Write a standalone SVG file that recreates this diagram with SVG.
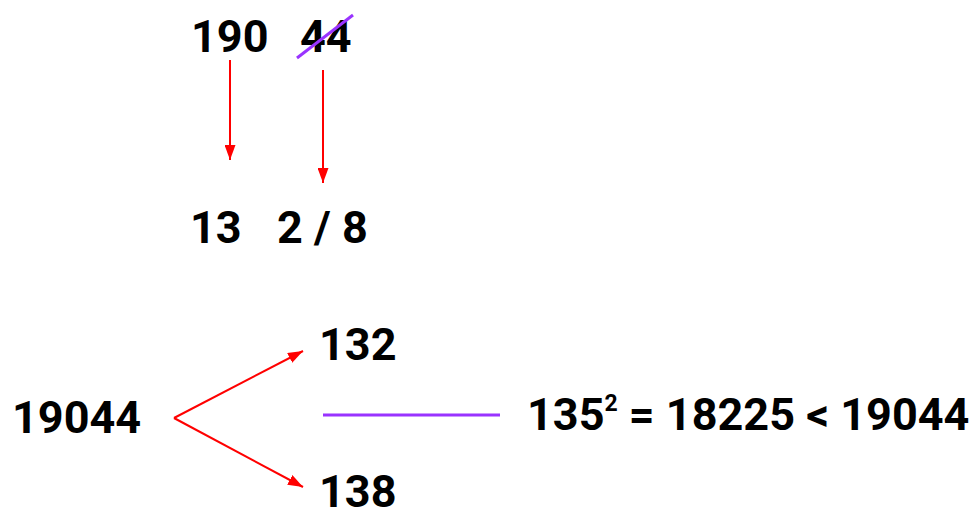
<svg xmlns="http://www.w3.org/2000/svg" width="980" height="514" viewBox="0 0 980 514">
<defs>
<marker id="ah" viewBox="0 0 15 11" refX="15" refY="5.5" markerWidth="15" markerHeight="11" markerUnits="userSpaceOnUse" orient="auto">
<path d="M0,0 L15,5.5 L0,11 Z" fill="#ff0000"/>
</marker>
</defs>
<style>
.t{font-family:Roboto,"Liberation Sans",sans-serif;font-weight:bold;font-size:45px;fill:#000}
.a{stroke:#ff0000;stroke-width:2;fill:none;marker-end:url(#ah)}
.p{stroke:#9933ff;stroke-width:3;fill:none}
</style>
<rect width="980" height="514" fill="#fff"/>
<g id="n190"><text class="t" x="191" y="52">190</text></g>
<g id="n44"><text class="t" x="300" y="52">44</text><line class="p" x1="297" y1="58" x2="353" y2="15" stroke-width="2"/></g>
<g id="n13"><text class="t" x="190" y="243">13</text></g>
<g id="n28"><text class="t" x="277" y="243">2 / 8</text></g>
<g id="n19044"><text class="t" x="12" y="433">19044</text></g>
<g id="n132"><text class="t" x="319" y="360">132</text></g>
<g id="n138"><text class="t" x="319" y="507">138</text></g>
<g id="eq"><text class="t" x="527" y="430">135<tspan font-size="23" dy="-19">2</tspan><tspan dy="19"> = 18225 &lt; 19044</tspan></text></g>
<g id="connectors">
<line class="a" x1="230" y1="60" x2="230" y2="160"/>
<line class="a" x1="323" y1="70" x2="323" y2="183"/>
<line class="a" x1="174" y1="418" x2="303" y2="351"/>
<line class="a" x1="174" y1="418" x2="303" y2="487"/>
<line class="p" x1="323" y1="415" x2="500" y2="415"/>
</g>
</svg>
